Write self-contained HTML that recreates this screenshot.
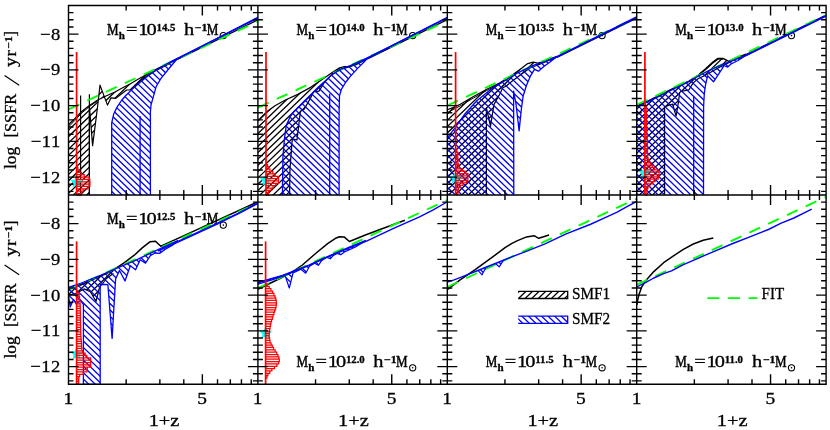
<!DOCTYPE html><html><head><meta charset="utf-8"><title>SSFR</title><style>html,body{margin:0;padding:0;background:#fff;}svg{display:block;will-change:transform;}text{font-family:"Liberation Serif",serif;stroke:#000;stroke-width:0.3px;}</style></head><body><svg width="830" height="430" viewBox="0 0 830 430" font-family='"Liberation Serif", serif' fill="#000"><text transform="translate(107 34.7) scale(0.8 1)" font-size="16.3" text-anchor="start" style="stroke-width:0.5px">M</text>
<text transform="translate(118.8 38.5) scale(1 1)" font-size="11" text-anchor="start" font-weight="bold" >h</text>
<text transform="translate(126 34.7) scale(1.25 1)" font-size="16.3" text-anchor="start" >=</text>
<text transform="translate(138.3 34.7) scale(1.25 1)" font-size="16.3" text-anchor="start" >1</text>
<text transform="translate(146.5 34.7) scale(1.25 1)" font-size="16.3" text-anchor="start" >0</text>
<text transform="translate(156.5 30.5) scale(1.1 1)" font-size="9.8" text-anchor="start" font-weight="bold" >14.5</text>
<text transform="translate(183.9 34.7) scale(1.25 1)" font-size="16.3" text-anchor="start" >h</text>
<text transform="translate(194.7 30.5) scale(1.2 1)" font-size="9.8" text-anchor="start" font-weight="bold" >−1</text>
<text transform="translate(206.7 34.7) scale(0.8 1)" font-size="16.3" text-anchor="start" style="stroke-width:0.5px">M</text>
<circle cx="223.3" cy="35.6" r="3.1" fill="none" stroke="#000" stroke-width="1.1"/>
<circle cx="223.3" cy="35.6" r="0.8" fill="#000"/>
<clipPath id="c1"><path d="M68.5 124.8 L75 118.5 L81.7 111.5 L89.4 105.5 L97.3 100.3 L106 96 L114.9 92 L122.7 87.8 L130.5 83.7 L138 79.3 L147 74.3 L155 69.8 L165 64.8 L178 58.3 L178 58.6 L166 65.5 L155 71 L147 75.8 L138 82.7 L130.5 90 L126.6 90 L115.8 98.3 L111 97.8 L107.5 105.1 L100 85.1 L97.3 109 L92.6 145.6 L89.4 106.5 L89.4 195 L68.5 195 Z"/></clipPath>
<path clip-path="url(#c1)" d="M67.5 55.25L179 -51.9M67.5 61.57L179 -45.58M67.5 67.9L179 -39.25M67.5 74.22L179 -32.93M67.5 80.55L179 -26.61M67.5 86.87L179 -20.28M67.5 93.19L179 -13.96M67.5 99.52L179 -7.63M67.5 105.84L179 -1.31M67.5 112.17L179 5.01M67.5 118.49L179 11.34M67.5 124.81L179 17.66M67.5 131.14L179 23.99M67.5 137.46L179 30.31M67.5 143.79L179 36.63M67.5 150.11L179 42.96M67.5 156.43L179 49.28M67.5 162.76L179 55.61M67.5 169.08L179 61.93M67.5 175.41L179 68.25M67.5 181.73L179 74.58M67.5 188.05L179 80.9M67.5 194.38L179 87.23M67.5 200.7L179 93.55M67.5 207.03L179 99.87M67.5 213.35L179 106.2M67.5 219.67L179 112.52M67.5 226L179 118.85M67.5 232.32L179 125.17M67.5 238.65L179 131.49M67.5 244.97L179 137.82M67.5 251.29L179 144.14M67.5 257.62L179 150.47M67.5 263.94L179 156.79M67.5 270.27L179 163.11M67.5 276.59L179 169.44M67.5 282.91L179 175.76M67.5 289.24L179 182.09M67.5 295.56L179 188.41M67.5 301.89L179 194.73" stroke="#000000" stroke-width="1.3" fill="none"/>
<path d="M68.5 127 L75 120.3 L81.7 113 L89.4 106.6 L97.3 101" stroke="#000000" stroke-width="1" fill="none" stroke-linejoin="round" />
<path d="M68.5 124.8 L75 118.5 L81.7 111.5 L89.4 105.5 L97.3 100.3 L106 96 L114.9 92 L122.7 87.8 L130.5 83.7 L138 79.3 L147 74.3 L155 69.8 L165 64.8 L178 58.3" stroke="#000000" stroke-width="1.2" fill="none" stroke-linejoin="round" />
<path d="M178 58.6 L166 65.5 L155 71 L147 75.8 L138 82.7 L130.5 90 L126.6 90 L115.8 98.3 L111 97.8 L107.5 105.1 L100 85.1 L97.3 109 L92.6 145.6 L89.4 106.5 L89.4 195" stroke="#000000" stroke-width="1.2" fill="none" stroke-linejoin="round" />
<path d="M80.6 95.5 L80.6 195" stroke="#000000" stroke-width="1.2" fill="none" stroke-linejoin="round" />
<path d="M89.4 94.2 L89.4 195" stroke="#000000" stroke-width="1.2" fill="none" stroke-linejoin="round" />
<path d="M178 59.2 L257.9 19.8" stroke="#000000" stroke-width="1.2" fill="none" stroke-linejoin="round" />
<path d="M68.5 109.4 L257.9 21.4" stroke="#00ff00" stroke-width="1.9" fill="none" stroke-linejoin="round" stroke-dasharray="11.8 8.9" stroke-dashoffset="0"/>
<clipPath id="c2"><path d="M111.7 195 L111.7 122.9 L113.8 113.7 L117.2 106.9 L121.8 100 L126.3 95 L132.9 88.6 L140.2 82.2 L147.5 76.2 L155.5 70.5 L166.1 64.3 L178 58 L174 62.5 L167.4 70.5 L160.8 78.6 L156.1 86.8 L152.8 98.7 L151 105 L150.4 112 L150.4 195 Z"/></clipPath>
<path clip-path="url(#c2)" d="M110.7 -11.93L179 54.12M110.7 -5.6L179 60.44M110.7 0.72L179 66.77M110.7 7.04L179 73.09M110.7 13.37L179 79.41M110.7 19.69L179 85.74M110.7 26.02L179 92.06M110.7 32.34L179 98.39M110.7 38.66L179 104.71M110.7 44.99L179 111.03M110.7 51.31L179 117.36M110.7 57.64L179 123.68M110.7 63.96L179 130.01M110.7 70.28L179 136.33M110.7 76.61L179 142.65M110.7 82.93L179 148.98M110.7 89.26L179 155.3M110.7 95.58L179 161.63M110.7 101.9L179 167.95M110.7 108.23L179 174.27M110.7 114.55L179 180.6M110.7 120.88L179 186.92M110.7 127.2L179 193.25M110.7 133.52L179 199.57M110.7 139.85L179 205.89M110.7 146.17L179 212.22M110.7 152.5L179 218.54M110.7 158.82L179 224.87M110.7 165.14L179 231.19M110.7 171.47L179 237.51M110.7 177.79L179 243.84M110.7 184.12L179 250.16M110.7 190.44L179 256.49" stroke="#0000ff" stroke-width="1.3" fill="none"/>
<path d="M111.7 195 L111.7 122.9 L113.8 113.7 L117.2 106.9 L121.8 100 L126.3 95 L132.9 88.6 L140.2 82.2 L147.5 76.2 L155.5 70.5 L166.1 64.3 L178 58" stroke="#0000ff" stroke-width="1.3" fill="none" stroke-linejoin="round" />
<path d="M178 58 L174 62.5 L167.4 70.5 L160.8 78.6 L156.1 86.8 L152.8 98.7 L151 105 L150.4 112 L150.4 195" stroke="#0000ff" stroke-width="1.3" fill="none" stroke-linejoin="round" />
<path d="M140.1 116 L140.1 195" stroke="#0000ff" stroke-width="1.3" fill="none" stroke-linejoin="round" />
<path d="M170 62.6 L257.9 17.4" stroke="#0000ff" stroke-width="1.5" fill="none" stroke-linejoin="round" />
<path d="M178 58 L257.9 18.2" stroke="#0000ff" stroke-width="1.2" fill="none" stroke-linejoin="round" />
<path d="M76.6 175.6 L74.66 179.53 L70.32 180.16 L73.46 183.22 L72.72 187.54 L76.6 185.5 L80.48 187.54 L79.74 183.22 L82.88 180.16 L78.54 179.53 Z" fill="#00ffff"/>
<path d="M76.6 165.3H77.22V167.65H76.6M76.6 167.65H77.85V170H76.6M76.6 170H79.47V172.35H76.6M76.6 172.35H81.28V174.7H76.6M76.6 174.7H84.24V177.05H76.6M76.6 177.05H89.4V179.4H76.6M76.6 179.4H89.77V181.75H76.6M76.6 181.75H89.96V184.1H76.6M76.6 184.1H89.85V186.45H76.6M76.6 186.45H87.86V188.8H76.6M76.6 188.8H83.25V191.15H76.6M76.6 191.15H81.78V193.5H76.6M76.6 193.5H80.49V195H76.6" stroke="#ff0000" stroke-width="1.25" fill="none" stroke-linejoin="miter"/>
<path d="M76.6 52 L76.6 195" stroke="#ff0000" stroke-width="1.7" fill="none" stroke-linejoin="round" />
<text transform="translate(296.4 34.7) scale(0.8 1)" font-size="16.3" text-anchor="start" style="stroke-width:0.5px">M</text>
<text transform="translate(308.2 38.5) scale(1 1)" font-size="11" text-anchor="start" font-weight="bold" >h</text>
<text transform="translate(315.4 34.7) scale(1.25 1)" font-size="16.3" text-anchor="start" >=</text>
<text transform="translate(327.7 34.7) scale(1.25 1)" font-size="16.3" text-anchor="start" >1</text>
<text transform="translate(335.9 34.7) scale(1.25 1)" font-size="16.3" text-anchor="start" >0</text>
<text transform="translate(345.9 30.5) scale(1.1 1)" font-size="9.8" text-anchor="start" font-weight="bold" >14.0</text>
<text transform="translate(373.3 34.7) scale(1.25 1)" font-size="16.3" text-anchor="start" >h</text>
<text transform="translate(384.1 30.5) scale(1.2 1)" font-size="9.8" text-anchor="start" font-weight="bold" >−1</text>
<text transform="translate(396.1 34.7) scale(0.8 1)" font-size="16.3" text-anchor="start" style="stroke-width:0.5px">M</text>
<circle cx="412.7" cy="35.6" r="3.1" fill="none" stroke="#000" stroke-width="1.1"/>
<circle cx="412.7" cy="35.6" r="0.8" fill="#000"/>
<clipPath id="c3"><path d="M257.9 120.6 L266 112.3 L275 105.8 L285.8 99.7 L297.8 94.4 L311 87.1 L324.3 77.9 L332.2 72.6 L338.8 68.2 L344.2 66.6 L349.5 66.3 L356 64 L368 58 L368 58.4 L356 64.6 L340.2 69.6 L332.2 73.9 L324.3 82.5 L319 91.1 L313.7 91.8 L311 97.1 L304.4 109 L300.4 111.4 L297 140 L292.3 138.9 L290 168.7 L289.6 195 L257.9 195 Z"/></clipPath>
<path clip-path="url(#c3)" d="M256.9 52.41L369 -55.32M256.9 58.73L369 -49M256.9 65.06L369 -42.67M256.9 71.38L369 -36.35M256.9 77.7L369 -30.02M256.9 84.03L369 -23.7M256.9 90.35L369 -17.38M256.9 96.68L369 -11.05M256.9 103L369 -4.73M256.9 109.32L369 1.6M256.9 115.65L369 7.92M256.9 121.97L369 14.24M256.9 128.3L369 20.57M256.9 134.62L369 26.89M256.9 140.94L369 33.22M256.9 147.27L369 39.54M256.9 153.59L369 45.86M256.9 159.92L369 52.19M256.9 166.24L369 58.51M256.9 172.56L369 64.84M256.9 178.89L369 71.16M256.9 185.21L369 77.48M256.9 191.54L369 83.81M256.9 197.86L369 90.13M256.9 204.18L369 96.46M256.9 210.51L369 102.78M256.9 216.83L369 109.1M256.9 223.16L369 115.43M256.9 229.48L369 121.75M256.9 235.8L369 128.08M256.9 242.13L369 134.4M256.9 248.45L369 140.72M256.9 254.78L369 147.05M256.9 261.1L369 153.37M256.9 267.42L369 159.7M256.9 273.75L369 166.02M256.9 280.07L369 172.34M256.9 286.4L369 178.67M256.9 292.72L369 184.99M256.9 299.04L369 191.32" stroke="#000000" stroke-width="1.3" fill="none"/>
<path d="M257.9 120.6 L266 112.3 L275 105.8 L285.8 99.7 L297.8 94.4 L311 87.1 L324.3 77.9 L332.2 72.6 L338.8 68.2 L344.2 66.6 L349.5 66.3 L356 64 L368 58" stroke="#000000" stroke-width="1.2" fill="none" stroke-linejoin="round" />
<path d="M368 58.4 L356 64.6 L340.2 69.6 L332.2 73.9 L324.3 82.5 L319 91.1 L313.7 91.8 L311 97.1 L304.4 109 L300.4 111.4 L297 140 L292.3 138.9 L290 168.7 L289.6 195" stroke="#000000" stroke-width="1.2" fill="none" stroke-linejoin="round" />
<path d="M368 58.8 L447.3 19.6" stroke="#000000" stroke-width="1.2" fill="none" stroke-linejoin="round" />
<path d="M257.9 107.6 L447.3 20.9" stroke="#00ff00" stroke-width="1.9" fill="none" stroke-linejoin="round" stroke-dasharray="11.8 8.9" stroke-dashoffset="0"/>
<clipPath id="c4"><path d="M282.4 195 L282.9 157.2 L284.2 141.2 L286.3 125.2 L290.5 116 L294 111.5 L301.7 103.7 L311 94.4 L317.6 87.8 L324.3 81.8 L332.2 74.6 L340.2 69.3 L350.8 65.3 L368 57.6 L364 62 L357.4 68.6 L350.8 75.9 L345.5 82.5 L341.5 89.1 L339.5 95.8 L339.1 112.3 L339.1 195 Z"/></clipPath>
<path clip-path="url(#c4)" d="M281.4 -30.26L369 54.45M281.4 -23.93L369 60.78M281.4 -17.61L369 67.1M281.4 -11.28L369 73.42M281.4 -4.96L369 79.75M281.4 1.36L369 86.07M281.4 7.69L369 92.4M281.4 14.01L369 98.72M281.4 20.34L369 105.04M281.4 26.66L369 111.37M281.4 32.98L369 117.69M281.4 39.31L369 124.02M281.4 45.63L369 130.34M281.4 51.96L369 136.66M281.4 58.28L369 142.99M281.4 64.6L369 149.31M281.4 70.93L369 155.64M281.4 77.25L369 161.96M281.4 83.58L369 168.28M281.4 89.9L369 174.61M281.4 96.22L369 180.93M281.4 102.55L369 187.26M281.4 108.87L369 193.58M281.4 115.2L369 199.9M281.4 121.52L369 206.23M281.4 127.84L369 212.55M281.4 134.17L369 218.88M281.4 140.49L369 225.2M281.4 146.82L369 231.52M281.4 153.14L369 237.85M281.4 159.46L369 244.17M281.4 165.79L369 250.5M281.4 172.11L369 256.82M281.4 178.44L369 263.14M281.4 184.76L369 269.47M281.4 191.08L369 275.79" stroke="#0000ff" stroke-width="1.3" fill="none"/>
<path d="M282.4 195 L282.9 157.2 L284.2 141.2 L286.3 125.2 L290.5 116 L294 111.5 L301.7 103.7 L311 94.4 L317.6 87.8 L324.3 81.8 L332.2 74.6 L340.2 69.3 L350.8 65.3 L368 57.6" stroke="#0000ff" stroke-width="1.3" fill="none" stroke-linejoin="round" />
<path d="M368 57.6 L364 62 L357.4 68.6 L350.8 75.9 L345.5 82.5 L341.5 89.1 L339.5 95.8 L339.1 112.3 L339.1 195" stroke="#0000ff" stroke-width="1.3" fill="none" stroke-linejoin="round" />
<path d="M329.7 93.8 L329.7 195" stroke="#0000ff" stroke-width="1.3" fill="none" stroke-linejoin="round" />
<path d="M362 61 L447.3 17.4" stroke="#0000ff" stroke-width="1.5" fill="none" stroke-linejoin="round" />
<path d="M368 57.6 L447.3 18" stroke="#0000ff" stroke-width="1.2" fill="none" stroke-linejoin="round" />
<path d="M266 173.9 L264.06 177.83 L259.72 178.46 L262.86 181.52 L262.12 185.84 L266 183.8 L269.88 185.84 L269.14 181.52 L272.28 178.46 L267.94 177.83 Z" fill="#00ffff"/>
<path d="M266 164.5H267.52V166.85H266M266 166.85H268.91V169.2H266M266 169.2H269.95V171.55H266M266 171.55H272.82V173.9H266M266 173.9H275.18V176.25H266M266 176.25H278.5V178.6H266M266 178.6H278.5V180.95H266M266 180.95H278.5V183.3H266M266 183.3H275.7V185.65H266M266 185.65H273.05V188H266M266 188H271.2V190.35H266M266 190.35H268.47V192.7H266M266 192.7H268.37V195H266" stroke="#ff0000" stroke-width="1.25" fill="none" stroke-linejoin="miter"/>
<path d="M266 52 L266 195" stroke="#ff0000" stroke-width="1.7" fill="none" stroke-linejoin="round" />
<text transform="translate(485.8 34.7) scale(0.8 1)" font-size="16.3" text-anchor="start" style="stroke-width:0.5px">M</text>
<text transform="translate(497.6 38.5) scale(1 1)" font-size="11" text-anchor="start" font-weight="bold" >h</text>
<text transform="translate(504.8 34.7) scale(1.25 1)" font-size="16.3" text-anchor="start" >=</text>
<text transform="translate(517.1 34.7) scale(1.25 1)" font-size="16.3" text-anchor="start" >1</text>
<text transform="translate(525.3 34.7) scale(1.25 1)" font-size="16.3" text-anchor="start" >0</text>
<text transform="translate(535.3 30.5) scale(1.1 1)" font-size="9.8" text-anchor="start" font-weight="bold" >13.5</text>
<text transform="translate(562.7 34.7) scale(1.25 1)" font-size="16.3" text-anchor="start" >h</text>
<text transform="translate(573.5 30.5) scale(1.2 1)" font-size="9.8" text-anchor="start" font-weight="bold" >−1</text>
<text transform="translate(585.5 34.7) scale(0.8 1)" font-size="16.3" text-anchor="start" style="stroke-width:0.5px">M</text>
<circle cx="602.1" cy="35.6" r="3.1" fill="none" stroke="#000" stroke-width="1.1"/>
<circle cx="602.1" cy="35.6" r="0.8" fill="#000"/>
<clipPath id="c5"><path d="M447.3 109.8 L453 107.6 L460.3 104.2 L473.5 96.6 L486.8 89.3 L500 82.7 L513.3 74.2 L521.2 68.6 L527.8 63.6 L533.1 62.2 L537.8 63.1 L542.4 61.8 L557 56.2 L557 56.6 L542.4 63.2 L530 68 L521 74.5 L512 81.2 L506 86.2 L502.7 87.8 L500 93.8 L493.9 104.6 L490.5 126.3 L486.4 108 L486.4 195 L447.3 195 Z"/></clipPath>
<path clip-path="url(#c5)" d="M446.3 51.69L558 -55.65M446.3 58.01L558 -49.33M446.3 64.34L558 -43.01M446.3 70.66L558 -36.68M446.3 76.99L558 -30.36M446.3 83.31L558 -24.03M446.3 89.63L558 -17.71M446.3 95.96L558 -11.39M446.3 102.28L558 -5.06M446.3 108.61L558 1.26M446.3 114.93L558 7.59M446.3 121.25L558 13.91M446.3 127.58L558 20.23M446.3 133.9L558 26.56M446.3 140.23L558 32.88M446.3 146.55L558 39.21M446.3 152.87L558 45.53M446.3 159.2L558 51.85M446.3 165.52L558 58.18M446.3 171.85L558 64.5M446.3 178.17L558 70.83M446.3 184.49L558 77.15M446.3 190.82L558 83.47M446.3 197.14L558 89.8M446.3 203.47L558 96.12M446.3 209.79L558 102.45M446.3 216.11L558 108.77M446.3 222.44L558 115.09M446.3 228.76L558 121.42M446.3 235.09L558 127.74M446.3 241.41L558 134.07M446.3 247.73L558 140.39M446.3 254.06L558 146.71M446.3 260.38L558 153.04M446.3 266.71L558 159.36M446.3 273.03L558 165.69M446.3 279.35L558 172.01M446.3 285.68L558 178.33M446.3 292L558 184.66M446.3 298.33L558 190.98" stroke="#000000" stroke-width="1.3" fill="none"/>
<path d="M447.3 112.6 L453 109.6 L460.3 105.8 L473.5 98 L486.8 90.5 L500 83.6 L513.3 75" stroke="#000000" stroke-width="1" fill="none" stroke-linejoin="round" />
<path d="M447.3 109.8 L453 107.6 L460.3 104.2 L473.5 96.6 L486.8 89.3 L500 82.7 L513.3 74.2 L521.2 68.6 L527.8 63.6 L533.1 62.2 L537.8 63.1 L542.4 61.8 L557 56.2" stroke="#000000" stroke-width="1.2" fill="none" stroke-linejoin="round" />
<path d="M557 56.6 L542.4 63.2 L530 68 L521 74.5 L512 81.2 L506 86.2 L502.7 87.8 L500 93.8 L493.9 104.6 L490.5 126.3 L486.4 108 L486.4 195" stroke="#000000" stroke-width="1.2" fill="none" stroke-linejoin="round" />
<path d="M557 57.4 L636.6 18.3" stroke="#000000" stroke-width="1.2" fill="none" stroke-linejoin="round" />
<path d="M447.3 105.6 L636.6 17.6" stroke="#00ff00" stroke-width="1.9" fill="none" stroke-linejoin="round" stroke-dasharray="11.8 8.9" stroke-dashoffset="0"/>
<clipPath id="c6"><path d="M447.3 195 L447.3 137.8 L455 127.8 L464.2 114.8 L476.8 100.8 L490.7 89.4 L504 81.2 L517.2 73.2 L526.5 68.6 L533.1 65.4 L545 61.5 L557 56.6 L550 62 L543.8 66.6 L538.4 71.2 L534.5 69.3 L530.5 75.9 L526.5 85.2 L523.2 95.8 L521.5 108 L519.1 130.9 L516 104 L513.6 91.1 L513.8 195 Z"/></clipPath>
<path clip-path="url(#c6)" d="M446.3 -54.19L558 53.82M446.3 -47.87L558 60.14M446.3 -41.55L558 66.47M446.3 -35.22L558 72.79M446.3 -28.9L558 79.12M446.3 -22.57L558 85.44M446.3 -16.25L558 91.76M446.3 -9.93L558 98.09M446.3 -3.6L558 104.41M446.3 2.72L558 110.74M446.3 9.05L558 117.06M446.3 15.37L558 123.38M446.3 21.69L558 129.71M446.3 28.02L558 136.03M446.3 34.34L558 142.36M446.3 40.67L558 148.68M446.3 46.99L558 155M446.3 53.31L558 161.33M446.3 59.64L558 167.65M446.3 65.96L558 173.98M446.3 72.29L558 180.3M446.3 78.61L558 186.62M446.3 84.93L558 192.95M446.3 91.26L558 199.27M446.3 97.58L558 205.6M446.3 103.91L558 211.92M446.3 110.23L558 218.24M446.3 116.55L558 224.57M446.3 122.88L558 230.89M446.3 129.2L558 237.22M446.3 135.53L558 243.54M446.3 141.85L558 249.86M446.3 148.17L558 256.19M446.3 154.5L558 262.51M446.3 160.82L558 268.84M446.3 167.15L558 275.16M446.3 173.47L558 281.48M446.3 179.79L558 287.81M446.3 186.12L558 294.13M446.3 192.44L558 300.46" stroke="#0000ff" stroke-width="1.3" fill="none"/>
<path d="M447.3 137.8 L455 127.8 L464.2 114.8 L476.8 100.8 L490.7 89.4 L504 81.2 L517.2 73.2 L526.5 68.6 L533.1 65.4 L545 61.5 L557 56.6" stroke="#0000ff" stroke-width="1.3" fill="none" stroke-linejoin="round" />
<path d="M557 56.6 L550 62 L543.8 66.6 L538.4 71.2 L534.5 69.3 L530.5 75.9 L526.5 85.2 L523.2 95.8 L521.5 108 L519.1 130.9 L516 104 L513.6 91.1 L513.8 195" stroke="#0000ff" stroke-width="1.3" fill="none" stroke-linejoin="round" />
<path d="M550 60.4 L636.6 17" stroke="#0000ff" stroke-width="1.5" fill="none" stroke-linejoin="round" />
<path d="M557 56.6 L636.6 17.6" stroke="#0000ff" stroke-width="1.2" fill="none" stroke-linejoin="round" />
<path d="M455.5 171.6 L453.56 175.53 L449.22 176.16 L452.36 179.22 L451.62 183.54 L455.5 181.5 L459.38 183.54 L458.64 179.22 L461.78 176.16 L457.44 175.53 Z" fill="#00ffff"/>
<path d="M455.6 150H456.77V152.35H455.6M455.6 152.35H457.81V154.7H455.6M455.6 154.7H457.85V157.05H455.6M455.6 157.05H457.9V159.4H455.6M455.6 159.4H457.94V161.75H455.6M455.6 161.75H457.99V164.1H455.6M455.6 164.1H458.54V166.45H455.6M455.6 166.45H459.25V168.8H455.6M455.6 168.8H462.17V171.15H455.6M455.6 171.15H465.18V173.5H455.6M455.6 173.5H467.9V175.85H455.6M455.6 175.85H467.9V178.2H455.6M455.6 178.2H467.9V180.55H455.6M455.6 180.55H466.51V182.9H455.6M455.6 182.9H463.03V185.25H455.6M455.6 185.25H460.01V187.6H455.6M455.6 187.6H458.38V189.95H455.6M455.6 189.95H457.95V192.3H455.6M455.6 192.3H457.87V194.65H455.6" stroke="#ff0000" stroke-width="1.25" fill="none" stroke-linejoin="miter"/>
<path d="M455.6 52 L455.6 195" stroke="#ff0000" stroke-width="1.7" fill="none" stroke-linejoin="round" />
<text transform="translate(675.2 34.7) scale(0.8 1)" font-size="16.3" text-anchor="start" style="stroke-width:0.5px">M</text>
<text transform="translate(687 38.5) scale(1 1)" font-size="11" text-anchor="start" font-weight="bold" >h</text>
<text transform="translate(694.2 34.7) scale(1.25 1)" font-size="16.3" text-anchor="start" >=</text>
<text transform="translate(706.5 34.7) scale(1.25 1)" font-size="16.3" text-anchor="start" >1</text>
<text transform="translate(714.7 34.7) scale(1.25 1)" font-size="16.3" text-anchor="start" >0</text>
<text transform="translate(724.7 30.5) scale(1.1 1)" font-size="9.8" text-anchor="start" font-weight="bold" >13.0</text>
<text transform="translate(752.1 34.7) scale(1.25 1)" font-size="16.3" text-anchor="start" >h</text>
<text transform="translate(762.9 30.5) scale(1.2 1)" font-size="9.8" text-anchor="start" font-weight="bold" >−1</text>
<text transform="translate(774.9 34.7) scale(0.8 1)" font-size="16.3" text-anchor="start" style="stroke-width:0.5px">M</text>
<circle cx="791.5" cy="35.6" r="3.1" fill="none" stroke="#000" stroke-width="1.1"/>
<circle cx="791.5" cy="35.6" r="0.8" fill="#000"/>
<clipPath id="c7"><path d="M636.7 105.6 L649.3 100.3 L662.5 93.7 L675.8 87 L689 81 L699.6 74.2 L706.2 68.6 L712.9 62.4 L718.2 58.6 L723.5 58.6 L728.8 61.3 L734.1 58.6 L746 54 L746 54.5 L734.1 60 L728.8 62.6 L720 67 L712 71.5 L705 75.5 L698.3 78.5 L693 83.1 L689 89.8 L681 91.5 L679.7 92.4 L678.4 102.3 L676.1 116 L672.5 104 L664.6 106.9 L664.6 195 L636.7 195 Z"/></clipPath>
<path clip-path="url(#c7)" d="M635.7 46.75L747 -60.21M635.7 53.07L747 -53.89M635.7 59.4L747 -47.56M635.7 65.72L747 -41.24M635.7 72.04L747 -34.91M635.7 78.37L747 -28.59M635.7 84.69L747 -22.27M635.7 91.02L747 -15.94M635.7 97.34L747 -9.62M635.7 103.66L747 -3.29M635.7 109.99L747 3.03M635.7 116.31L747 9.35M635.7 122.64L747 15.68M635.7 128.96L747 22M635.7 135.28L747 28.33M635.7 141.61L747 34.65M635.7 147.93L747 40.97M635.7 154.26L747 47.3M635.7 160.58L747 53.62M635.7 166.9L747 59.95M635.7 173.23L747 66.27M635.7 179.55L747 72.59M635.7 185.88L747 78.92M635.7 192.2L747 85.24M635.7 198.52L747 91.57M635.7 204.85L747 97.89M635.7 211.17L747 104.21M635.7 217.5L747 110.54M635.7 223.82L747 116.86M635.7 230.14L747 123.19M635.7 236.47L747 129.51M635.7 242.79L747 135.83M635.7 249.12L747 142.16M635.7 255.44L747 148.48M635.7 261.76L747 154.81M635.7 268.09L747 161.13M635.7 274.41L747 167.45M635.7 280.74L747 173.78M635.7 287.06L747 180.1M635.7 293.38L747 186.43M635.7 299.71L747 192.75" stroke="#000000" stroke-width="1.3" fill="none"/>
<path d="M636.7 105.6 L649.3 100.3 L662.5 93.7 L675.8 87 L689 81 L699.6 74.2 L706.2 68.6 L712.9 62.4 L718.2 58.6 L723.5 58.6 L728.8 61.3 L734.1 58.6 L746 54" stroke="#000000" stroke-width="1.3" fill="none" stroke-linejoin="round" />
<path d="M699.6 74.2 L706.2 68.6 L712.9 62.4 L718.2 58.6 L723.5 58.6" stroke="#000000" stroke-width="1.9" fill="none" stroke-linejoin="round" />
<path d="M746 54.5 L734.1 60 L728.8 62.6 L720 67 L712 71.5 L705 75.5 L698.3 78.5 L693 83.1 L689 89.8 L681 91.5 L679.7 92.4 L678.4 102.3 L676.1 116 L672.5 104 L664.6 106.9 L664.6 195" stroke="#000000" stroke-width="1.2" fill="none" stroke-linejoin="round" />
<path d="M746 54.4 L826 14.9" stroke="#000000" stroke-width="1.1" fill="none" stroke-linejoin="round" />
<path d="M636.7 104.9 L826 15" stroke="#00ff00" stroke-width="1.9" fill="none" stroke-linejoin="round" stroke-dasharray="11.8 8.9" stroke-dashoffset="0"/>
<clipPath id="c8"><path d="M636.7 195 L636.7 106.4 L649.3 101.2 L662.5 94.6 L675.8 87.8 L689 81.7 L699.6 75.3 L708.9 70.5 L722.2 64.6 L730 61.5 L746 55.3 L738 60.5 L731 64 L727.5 67.2 L724 65.5 L722.2 68.6 L713.5 81.8 L707.6 75.8 L705.6 84.5 L704.3 93.7 L703.6 106.3 L703.5 195 Z"/></clipPath>
<path clip-path="url(#c8)" d="M635.7 -54.44L747 53.19M635.7 -48.12L747 59.51M635.7 -41.79L747 65.83M635.7 -35.47L747 72.16M635.7 -29.14L747 78.48M635.7 -22.82L747 84.81M635.7 -16.5L747 91.13M635.7 -10.17L747 97.45M635.7 -3.85L747 103.78M635.7 2.48L747 110.1M635.7 8.8L747 116.43M635.7 15.12L747 122.75M635.7 21.45L747 129.07M635.7 27.77L747 135.4M635.7 34.1L747 141.72M635.7 40.42L747 148.05M635.7 46.74L747 154.37M635.7 53.07L747 160.69M635.7 59.39L747 167.02M635.7 65.72L747 173.34M635.7 72.04L747 179.67M635.7 78.36L747 185.99M635.7 84.69L747 192.31M635.7 91.01L747 198.64M635.7 97.34L747 204.96M635.7 103.66L747 211.29M635.7 109.98L747 217.61M635.7 116.31L747 223.93M635.7 122.63L747 230.26M635.7 128.96L747 236.58M635.7 135.28L747 242.91M635.7 141.6L747 249.23M635.7 147.93L747 255.55M635.7 154.25L747 261.88M635.7 160.58L747 268.2M635.7 166.9L747 274.53M635.7 173.22L747 280.85M635.7 179.55L747 287.17M635.7 185.87L747 293.5M635.7 192.2L747 299.82" stroke="#0000ff" stroke-width="1.3" fill="none"/>
<path d="M636.7 106.4 L649.3 101.2 L662.5 94.6 L675.8 87.8 L689 81.7 L699.6 75.3 L708.9 70.5 L722.2 64.6 L730 61.5 L746 55.3" stroke="#0000ff" stroke-width="1.3" fill="none" stroke-linejoin="round" />
<path d="M746 55.3 L738 60.5 L731 64 L727.5 67.2 L724 65.5 L722.2 68.6 L713.5 81.8 L707.6 75.8 L705.6 84.5 L704.3 93.7 L703.6 106.3 L703.5 195" stroke="#0000ff" stroke-width="1.3" fill="none" stroke-linejoin="round" />
<path d="M693.7 95.7 L693.7 195" stroke="#0000ff" stroke-width="1.3" fill="none" stroke-linejoin="round" />
<path d="M738 59.4 L826 15.6" stroke="#0000ff" stroke-width="1.5" fill="none" stroke-linejoin="round" />
<path d="M746 55.6 L826 16.2" stroke="#0000ff" stroke-width="1.2" fill="none" stroke-linejoin="round" />
<path d="M644.8 166.3 L642.86 170.23 L638.52 170.86 L641.66 173.92 L640.92 178.24 L644.8 176.2 L648.68 178.24 L647.94 173.92 L651.08 170.86 L646.74 170.23 Z" fill="#00ffff"/>
<path d="M644.9 104H645.63V106.35H644.9M644.9 106.35H646.11V108.7H644.9M644.9 108.7H646.23V111.05H644.9M644.9 111.05H646.27V113.4H644.9M644.9 113.4H646.32V115.75H644.9M644.9 115.75H646.36V118.1H644.9M644.9 118.1H646.4V120.45H644.9M644.9 120.45H646.44V122.8H644.9M644.9 122.8H646.48V125.15H644.9M644.9 125.15H646.57V127.5H644.9M644.9 127.5H646.7V129.85H644.9M644.9 129.85H646.82V132.2H644.9M644.9 132.2H646.95V134.55H644.9M644.9 134.55H647.07V136.9H644.9M644.9 136.9H647.2V139.25H644.9M644.9 139.25H647.31V141.6H644.9M644.9 141.6H647.36V143.95H644.9M644.9 143.95H647.42V146.3H644.9M644.9 146.3H647.47V148.65H644.9M644.9 148.65H647.52V151H644.9M644.9 151H647.58V153.35H644.9M644.9 153.35H647.63V155.7H644.9M644.9 155.7H647.69V158.05H644.9M644.9 158.05H648.21V160.4H644.9M644.9 160.4H649.23V162.75H644.9M644.9 162.75H650.54V165.1H644.9M644.9 165.1H652.28V167.45H644.9M644.9 167.45H654.62V169.8H644.9M644.9 169.8H658V172.15H644.9M644.9 172.15H659.1V174.5H644.9M644.9 174.5H659.1V176.85H644.9M644.9 176.85H658.18V179.2H644.9M644.9 179.2H655.17V181.55H644.9M644.9 181.55H652.2V183.9H644.9M644.9 183.9H649.78V186.25H644.9M644.9 186.25H647.89V188.6H644.9M644.9 188.6H647.08V190.95H644.9M644.9 190.95H647V193.3H644.9M644.9 193.3H646.93V195H644.9" stroke="#ff0000" stroke-width="1.25" fill="none" stroke-linejoin="miter"/>
<path d="M644.9 52 L644.9 195" stroke="#ff0000" stroke-width="1.7" fill="none" stroke-linejoin="round" />
<text transform="translate(107 224.2) scale(0.8 1)" font-size="16.3" text-anchor="start" style="stroke-width:0.5px">M</text>
<text transform="translate(118.8 228) scale(1 1)" font-size="11" text-anchor="start" font-weight="bold" >h</text>
<text transform="translate(126 224.2) scale(1.25 1)" font-size="16.3" text-anchor="start" >=</text>
<text transform="translate(138.3 224.2) scale(1.25 1)" font-size="16.3" text-anchor="start" >1</text>
<text transform="translate(146.5 224.2) scale(1.25 1)" font-size="16.3" text-anchor="start" >0</text>
<text transform="translate(156.5 220) scale(1.1 1)" font-size="9.8" text-anchor="start" font-weight="bold" >12.5</text>
<text transform="translate(183.9 224.2) scale(1.25 1)" font-size="16.3" text-anchor="start" >h</text>
<text transform="translate(194.7 220) scale(1.2 1)" font-size="9.8" text-anchor="start" font-weight="bold" >−1</text>
<text transform="translate(206.7 224.2) scale(0.8 1)" font-size="16.3" text-anchor="start" style="stroke-width:0.5px">M</text>
<circle cx="223.3" cy="225.1" r="3.1" fill="none" stroke="#000" stroke-width="1.1"/>
<circle cx="223.3" cy="225.1" r="0.8" fill="#000"/>
<clipPath id="c9"><path d="M68.5 287.9 L80 283.9 L93.9 278.3 L107.9 272.9 L119 268 L113.4 273.6 L106.5 278.5 L99.5 287.5 L96 301.5 L90.4 291.7 L84.1 288.9 L76 293.5 L68.5 295.2 Z"/></clipPath>
<path clip-path="url(#c9)" d="M67.5 263.94L120 213.49M67.5 270.27L120 219.81M67.5 276.59L120 226.14M67.5 282.91L120 232.46M67.5 289.24L120 238.78M67.5 295.56L120 245.11M67.5 301.89L120 251.43M67.5 308.21L120 257.76M67.5 314.53L120 264.08M67.5 320.86L120 270.4M67.5 327.18L120 276.73M67.5 333.51L120 283.05M67.5 339.83L120 289.38M67.5 346.15L120 295.7M67.5 352.48L120 302.02" stroke="#000000" stroke-width="1.3" fill="none"/>
<path d="M113.4 273.6 L106.5 278.5 L99.5 287.5 L96 301.5 L90.4 291.7 L84.1 288.9 L76 293.5 L68.5 295.2" stroke="#000000" stroke-width="1.2" fill="none" stroke-linejoin="round" />
<path d="M68.5 289.4 L80 285.2 L93.9 279 L107.9 272.9 L115.7 268.4 L123.7 263.1 L134.3 255.2 L142.2 247.9 L150.2 241.7 L155.5 241.3 L160.8 246.3 L178 238.4 L256.7 202.3" stroke="#000000" stroke-width="1.5" fill="none" stroke-linejoin="round" />
<path d="M68.5 289.8 L257.9 203" stroke="#00ff00" stroke-width="1.9" fill="none" stroke-linejoin="round" stroke-dasharray="11.8 8.9" stroke-dashoffset="0"/>
<clipPath id="c10"><path d="M68.5 287.4 L81.3 283 L101.1 275 L121 266.4 L134.3 260.8 L147.5 254.7 L160.8 248.3 L178 240.6 L172 245.5 L165 249.5 L159.5 253.4 L155 253 L150.2 255.8 L145.5 263.1 L140.2 259.8 L135.6 269.8 L130.3 265.8 L125 281 L119.5 270.5 L115.6 279 L112.1 338.4 L107.9 284.7 L104.5 284.3 L100.2 284.7 L100.2 384.3 L83.4 384.3 L83.4 304.3 L80 300 L76.5 304.3 L73.5 299.5 L70.2 307 L68.5 295.9 Z"/></clipPath>
<path clip-path="url(#c10)" d="M67.5 129.69L179 237.51M67.5 136.02L179 243.84M67.5 142.34L179 250.16M67.5 148.67L179 256.49M67.5 154.99L179 262.81M67.5 161.31L179 269.13M67.5 167.64L179 275.46M67.5 173.96L179 281.78M67.5 180.29L179 288.11M67.5 186.61L179 294.43M67.5 192.93L179 300.75M67.5 199.26L179 307.08M67.5 205.58L179 313.4M67.5 211.91L179 319.73M67.5 218.23L179 326.05M67.5 224.55L179 332.37M67.5 230.88L179 338.7M67.5 237.2L179 345.02M67.5 243.53L179 351.35M67.5 249.85L179 357.67M67.5 256.17L179 363.99M67.5 262.5L179 370.32M67.5 268.82L179 376.64M67.5 275.15L179 382.97M67.5 281.47L179 389.29M67.5 287.79L179 395.61M67.5 294.12L179 401.94M67.5 300.44L179 408.26M67.5 306.77L179 414.59M67.5 313.09L179 420.91M67.5 319.41L179 427.23M67.5 325.74L179 433.56M67.5 332.06L179 439.88M67.5 338.39L179 446.21M67.5 344.71L179 452.53M67.5 351.03L179 458.85M67.5 357.36L179 465.18M67.5 363.68L179 471.5M67.5 370.01L179 477.83M67.5 376.33L179 484.15M67.5 382.65L179 490.47" stroke="#0000ff" stroke-width="1.3" fill="none"/>
<path d="M68.5 287.4 L81.3 283 L101.1 275 L121 266.4 L134.3 260.8 L147.5 254.7 L160.8 248.3 L178 240.6" stroke="#0000ff" stroke-width="1.3" fill="none" stroke-linejoin="round" />
<path d="M178 240.6 L172 245.5 L165 249.5 L159.5 253.4 L155 253 L150.2 255.8 L145.5 263.1 L140.2 259.8 L135.6 269.8 L130.3 265.8 L125 281 L119.5 270.5 L115.6 279 L112.1 338.4 L107.9 284.7 L104.5 284.3 L100.2 284.7 L100.2 384.3 L83.4 384.3 L83.4 304.3 L80 300 L76.5 304.3 L73.5 299.5 L70.2 307 L68.5 295.9" stroke="#0000ff" stroke-width="1.3" fill="none" stroke-linejoin="round" />
<path d="M158 251 L190 236.6 L216 224.6 L240 212.8 L257.9 203.4" stroke="#0000ff" stroke-width="1.5" fill="none" stroke-linejoin="round" />
<path d="M178 241.2 L216 223.8 L240 212.2 L257.9 203" stroke="#0000ff" stroke-width="1.2" fill="none" stroke-linejoin="round" />
<path d="M76.6 347.4 L74.66 351.33 L70.32 351.96 L73.46 355.02 L72.72 359.34 L76.6 357.3 L80.48 359.34 L79.74 355.02 L82.88 351.96 L78.54 351.33 Z" fill="#00ffff"/>
<path d="M76.6 292H77.99V294.35H76.6M76.6 294.35H79.16V296.7H76.6M76.6 296.7H79.57V299.05H76.6M76.6 299.05H79.78V301.4H76.6M76.6 301.4H79.98V303.75H76.6M76.6 303.75H80.19V306.1H76.6M76.6 306.1H80.25V308.45H76.6M76.6 308.45H80.29V310.8H76.6M76.6 310.8H80.34V313.15H76.6M76.6 313.15H80.39V315.5H76.6M76.6 315.5H80.43V317.85H76.6M76.6 317.85H80.48V320.2H76.6M76.6 320.2H80.53V322.55H76.6M76.6 322.55H80.57V324.9H76.6M76.6 324.9H80.62V327.25H76.6M76.6 327.25H80.67V329.6H76.6M76.6 329.6H80.72V331.95H76.6M76.6 331.95H80.76V334.3H76.6M76.6 334.3H80.84V336.65H76.6M76.6 336.65H81.01V339H76.6M76.6 339H81.19V341.35H76.6M76.6 341.35H81.36V343.7H76.6M76.6 343.7H81.53V346.05H76.6M76.6 346.05H81.7V348.4H76.6M76.6 348.4H81.86V350.75H76.6M76.6 350.75H82.55V353.1H76.6M76.6 353.1H85.14V355.45H76.6M76.6 355.45H86.8V357.8H76.6M76.6 357.8H90.61V360.15H76.6M76.6 360.15H90.66V362.5H76.6M76.6 362.5H90.71V364.85H76.6M76.6 364.85H90.77V367.2H76.6M76.6 367.2H87.31V369.55H76.6M76.6 369.55H87.02V371.9H76.6M76.6 371.9H83.3V374.25H76.6M76.6 374.25H79.59V376.6H76.6M76.6 376.6H78.79V378.95H76.6M76.6 378.95H78.72V381.3H76.6M76.6 381.3H78.66V383.65H76.6" stroke="#ff0000" stroke-width="1.25" fill="none" stroke-linejoin="miter"/>
<path d="M76.6 241.4 L76.6 384.3" stroke="#ff0000" stroke-width="1.7" fill="none" stroke-linejoin="round" />
<text transform="translate(296.4 366.9) scale(0.8 1)" font-size="16.3" text-anchor="start" style="stroke-width:0.5px">M</text>
<text transform="translate(308.2 370.7) scale(1 1)" font-size="11" text-anchor="start" font-weight="bold" >h</text>
<text transform="translate(315.4 366.9) scale(1.25 1)" font-size="16.3" text-anchor="start" >=</text>
<text transform="translate(327.7 366.9) scale(1.25 1)" font-size="16.3" text-anchor="start" >1</text>
<text transform="translate(335.9 366.9) scale(1.25 1)" font-size="16.3" text-anchor="start" >0</text>
<text transform="translate(345.9 362.7) scale(1.1 1)" font-size="9.8" text-anchor="start" font-weight="bold" >12.0</text>
<text transform="translate(373.3 366.9) scale(1.25 1)" font-size="16.3" text-anchor="start" >h</text>
<text transform="translate(384.1 362.7) scale(1.2 1)" font-size="9.8" text-anchor="start" font-weight="bold" >−1</text>
<text transform="translate(396.1 366.9) scale(0.8 1)" font-size="16.3" text-anchor="start" style="stroke-width:0.5px">M</text>
<circle cx="412.7" cy="367.8" r="3.1" fill="none" stroke="#000" stroke-width="1.1"/>
<circle cx="412.7" cy="367.8" r="0.8" fill="#000"/>
<path d="M257.9 289.2 L266 285.3 L275.8 280.5 L282 277.5 L291.6 272.4 L302.4 265 L315.6 253.5 L327.6 243.6 L335.5 238.3 L339.5 236.7 L344.1 236.9 L349.4 241.5 L366 234.8 L404.9 220.2" stroke="#000000" stroke-width="1.5" fill="none" stroke-linejoin="round" />
<path d="M257.9 288 L447.3 200" stroke="#00ff00" stroke-width="1.9" fill="none" stroke-linejoin="round" stroke-dasharray="11.8 8.9" stroke-dashoffset="0"/>
<clipPath id="c11"><path d="M257.9 282.3 L282.5 275.3 L309 265 L322.3 258.8 L335.5 253.2 L348.8 247.4 L366 240.4 L355 247.3 L345 251.6 L340.8 254.8 L337 253.4 L333 255.8 L330.2 258.8 L326.5 257.3 L321.5 260.8 L318.3 265.3 L314.5 263.3 L309.5 266.3 L305.7 273.2 L301 269.2 L293 273 L289.3 288 L285 275.4 L272 279.9 L257.9 284.2 Z"/></clipPath>
<path clip-path="url(#c11)" d="M256.9 129.45L367 235.91M256.9 135.77L367 242.24M256.9 142.1L367 248.56M256.9 148.42L367 254.89M256.9 154.74L367 261.21M256.9 161.07L367 267.53M256.9 167.39L367 273.86M256.9 173.72L367 280.18M256.9 180.04L367 286.51M256.9 186.36L367 292.83M256.9 192.69L367 299.15M256.9 199.01L367 305.48M256.9 205.34L367 311.8M256.9 211.66L367 318.13M256.9 217.98L367 324.45M256.9 224.31L367 330.77M256.9 230.63L367 337.1M256.9 236.96L367 343.42M256.9 243.28L367 349.75M256.9 249.6L367 356.07M256.9 255.93L367 362.39M256.9 262.25L367 368.72M256.9 268.58L367 375.04M256.9 274.9L367 381.37M256.9 281.22L367 387.69M256.9 287.55L367 394.01" stroke="#0000ff" stroke-width="1.3" fill="none"/>
<path d="M257.9 282.3 L282.5 275.3 L309 265 L322.3 258.8 L335.5 253.2 L348.8 247.4 L366 240.4" stroke="#0000ff" stroke-width="1.3" fill="none" stroke-linejoin="round" />
<path d="M366 240.4 L355 247.3 L345 251.6 L340.8 254.8 L337 253.4 L333 255.8 L330.2 258.8 L326.5 257.3 L321.5 260.8 L318.3 265.3 L314.5 263.3 L309.5 266.3 L305.7 273.2 L301 269.2 L293 273 L289.3 288 L285 275.4 L272 279.9 L257.9 284.2" stroke="#0000ff" stroke-width="1.2" fill="none" stroke-linejoin="round" />
<path d="M257.9 282.8 L282.5 275.9 L309 265.6 L322.3 259.3 L344 250.2 L366.5 241.2 L393 228.6 L419.5 216.9 L432.8 210.2 L446.9 202" stroke="#0000ff" stroke-width="1.4" fill="none" stroke-linejoin="round" />
<path d="M265.6 326.6 L263.66 330.53 L259.32 331.16 L262.46 334.22 L261.72 338.54 L265.6 336.5 L269.48 338.54 L268.74 334.22 L271.88 331.16 L267.54 330.53 Z" fill="#00ffff"/>
<path d="M265.6 284H267.13V286.35H265.6M265.6 286.35H269.18V288.7H265.6M265.6 288.7H270.91V291.05H265.6M265.6 291.05H272.56V293.4H265.6M265.6 293.4H273.89V295.75H265.6M265.6 295.75H275.06V298.1H265.6M265.6 298.1H275.83V300.45H265.6M265.6 300.45H276.25V302.8H265.6M265.6 302.8H276.36V305.15H265.6M265.6 305.15H276.03V307.5H265.6M265.6 307.5H275.55V309.85H265.6M265.6 309.85H274.69V312.2H265.6M265.6 312.2H273.83V314.55H265.6M265.6 314.55H273.06V316.9H265.6M265.6 316.9H272.33V319.25H265.6M265.6 319.25H271.59V321.6H265.6M265.6 321.6H270.95V323.95H265.6M265.6 323.95H270.51V326.3H265.6M265.6 326.3H270.07V328.65H265.6M265.6 328.65H269.63V331H265.6M265.6 331H269.42V333.35H265.6M265.6 333.35H269.22V335.7H265.6M265.6 335.7H269.25V338.05H265.6M265.6 338.05H269.64V340.4H265.6M265.6 340.4H270.03V342.75H265.6M265.6 342.75H271.06V345.1H265.6M265.6 345.1H272.24V347.45H265.6M265.6 347.45H273.54V349.8H265.6M265.6 349.8H275.18V352.15H265.6M265.6 352.15H276.76V354.5H265.6M265.6 354.5H277.94V356.85H265.6M265.6 356.85H278.87V359.2H265.6M265.6 359.2H279.3V361.55H265.6M265.6 361.55H278.67V363.9H265.6M265.6 363.9H276.87V366.25H265.6M265.6 366.25H274.5V368.6H265.6M265.6 368.6H271.85V370.95H265.6M265.6 370.95H269.74V373.3H265.6M265.6 373.3H267.9V375.65H265.6M265.6 375.65H266.9V378H265.6" stroke="#ff0000" stroke-width="1.25" fill="none" stroke-linejoin="miter"/>
<path d="M265.6 241.4 L265.6 384.3" stroke="#ff0000" stroke-width="1.7" fill="none" stroke-linejoin="round" />
<text transform="translate(485.8 366.9) scale(0.8 1)" font-size="16.3" text-anchor="start" style="stroke-width:0.5px">M</text>
<text transform="translate(497.6 370.7) scale(1 1)" font-size="11" text-anchor="start" font-weight="bold" >h</text>
<text transform="translate(504.8 366.9) scale(1.25 1)" font-size="16.3" text-anchor="start" >=</text>
<text transform="translate(517.1 366.9) scale(1.25 1)" font-size="16.3" text-anchor="start" >1</text>
<text transform="translate(525.3 366.9) scale(1.25 1)" font-size="16.3" text-anchor="start" >0</text>
<text transform="translate(535.3 362.7) scale(1.1 1)" font-size="9.8" text-anchor="start" font-weight="bold" >11.5</text>
<text transform="translate(562.7 366.9) scale(1.25 1)" font-size="16.3" text-anchor="start" >h</text>
<text transform="translate(573.5 362.7) scale(1.2 1)" font-size="9.8" text-anchor="start" font-weight="bold" >−1</text>
<text transform="translate(585.5 366.9) scale(0.8 1)" font-size="16.3" text-anchor="start" style="stroke-width:0.5px">M</text>
<circle cx="602.1" cy="367.8" r="3.1" fill="none" stroke="#000" stroke-width="1.1"/>
<circle cx="602.1" cy="367.8" r="0.8" fill="#000"/>
<path d="M447.3 289.7 L460.1 279.8 L475.2 269.6 L490.3 258.7 L505.4 247.4 L511.5 243.6 L517.5 240.6 L526.6 236.9 L534.1 235.7 L538.7 238.3 L549.1 235" stroke="#000000" stroke-width="1.5" fill="none" stroke-linejoin="round" />
<path d="M447.3 287 L636.6 198.6" stroke="#00ff00" stroke-width="1.9" fill="none" stroke-linejoin="round" stroke-dasharray="11.8 8.9" stroke-dashoffset="0"/>
<path d="M447.3 282.1 L454.1 279.8 L467.7 274.6 L482.8 268.5 L497.9 262.5 L513 256.4 L528.1 250.6 L545 243.8 L565.6 234.2 L591.2 224 L604 218.2 L616.7 212.4 L627 206.7 L634 202.9 L636.4 201.3" stroke="#0000ff" stroke-width="1.4" fill="none" stroke-linejoin="round" />
<clipPath id="c12"><path d="M478 270.4 L482 274.8 L486 267.2 Z"/></clipPath>
<path clip-path="url(#c12)" d="M477 253.75L487 263.42M477 260.07L487 269.74M477 266.4L487 276.07M477 272.72L487 282.39" stroke="#0000ff" stroke-width="1.3" fill="none"/>
<path d="M478 270.4 L482 274.8 L486 267.2" stroke="#0000ff" stroke-width="1.2" fill="none" stroke-linejoin="round" />
<clipPath id="c13"><path d="M495.3 263.5 L499.2 266.8 L503.6 260.2 Z"/></clipPath>
<path clip-path="url(#c13)" d="M494.3 245.18L504.6 255.14M494.3 251.51L504.6 261.47M494.3 257.83L504.6 267.79M494.3 264.15L504.6 274.11" stroke="#0000ff" stroke-width="1.3" fill="none"/>
<path d="M495.3 263.5 L499.2 266.8 L503.6 260.2" stroke="#0000ff" stroke-width="1.2" fill="none" stroke-linejoin="round" />
<clipPath id="c14"><path d="M518.2 291.3 L567.7 291.3 L567.7 298.5 L518.2 298.5 Z"/></clipPath>
<path clip-path="url(#c14)" d="M517.2 287.11L568.7 237.62M517.2 293.43L568.7 243.94M517.2 299.76L568.7 250.26M517.2 306.08L568.7 256.59M517.2 312.4L568.7 262.91M517.2 318.73L568.7 269.24M517.2 325.05L568.7 275.56M517.2 331.38L568.7 281.88M517.2 337.7L568.7 288.21M517.2 344.02L568.7 294.53" stroke="#000000" stroke-width="1.3" fill="none"/>
<path d="M518.2 291.3 L567.7 291.3 L567.7 298.5 L518.2 298.5" fill="none" stroke="#000000" stroke-width="1.3"/>
<text x="572.0" y="298.9" font-size="16.3" textLength="38.2" lengthAdjust="spacingAndGlyphs">SMF1</text>
<clipPath id="c15"><path d="M518.2 316.1 L567.7 316.1 L567.7 323.3 L518.2 323.3 Z"/></clipPath>
<path clip-path="url(#c15)" d="M517.2 261L568.7 310.8M517.2 267.33L568.7 317.13M517.2 273.65L568.7 323.45M517.2 279.97L568.7 329.77M517.2 286.3L568.7 336.1M517.2 292.62L568.7 342.42M517.2 298.95L568.7 348.75M517.2 305.27L568.7 355.07M517.2 311.59L568.7 361.39M517.2 317.92L568.7 367.72M517.2 324.24L568.7 374.04" stroke="#0000ff" stroke-width="1.3" fill="none"/>
<path d="M518.2 316.1 L567.7 316.1 L567.7 323.3 L518.2 323.3" fill="none" stroke="#0000ff" stroke-width="1.3"/>
<text x="572.0" y="323.7" font-size="16.3" textLength="38.2" lengthAdjust="spacingAndGlyphs">SMF2</text>
<text transform="translate(675.2 366.9) scale(0.8 1)" font-size="16.3" text-anchor="start" style="stroke-width:0.5px">M</text>
<text transform="translate(687 370.7) scale(1 1)" font-size="11" text-anchor="start" font-weight="bold" >h</text>
<text transform="translate(694.2 366.9) scale(1.25 1)" font-size="16.3" text-anchor="start" >=</text>
<text transform="translate(706.5 366.9) scale(1.25 1)" font-size="16.3" text-anchor="start" >1</text>
<text transform="translate(714.7 366.9) scale(1.25 1)" font-size="16.3" text-anchor="start" >0</text>
<text transform="translate(724.7 362.7) scale(1.1 1)" font-size="9.8" text-anchor="start" font-weight="bold" >11.0</text>
<text transform="translate(752.1 366.9) scale(1.25 1)" font-size="16.3" text-anchor="start" >h</text>
<text transform="translate(762.9 362.7) scale(1.2 1)" font-size="9.8" text-anchor="start" font-weight="bold" >−1</text>
<text transform="translate(774.9 366.9) scale(0.8 1)" font-size="16.3" text-anchor="start" style="stroke-width:0.5px">M</text>
<circle cx="791.5" cy="367.8" r="3.1" fill="none" stroke="#000" stroke-width="1.1"/>
<circle cx="791.5" cy="367.8" r="0.8" fill="#000"/>
<path d="M636.9 305 L637.7 300 L639 294.4 L641.9 286.6 L645.9 280.5 L653.8 271.6 L663.6 262.7 L673.5 255.8 L683.4 249.3 L693.3 244 L703.2 240.3 L713.3 238" stroke="#000" stroke-width="1.5" fill="none" stroke-linejoin="round"/>
<path d="M636.7 284.9 L826 197" stroke="#00ff00" stroke-width="1.9" fill="none" stroke-linejoin="round" stroke-dasharray="11.8 8.9" stroke-dashoffset="0"/>
<path d="M636.7 287 L645.9 282.3 L653.8 278 L663.6 273.6 L671.5 270.9 L683.4 264.6 L693.3 260.3 L713 251.8 L734 243 L749.2 237.2 L768.4 229.5 L781.2 223.1 L793.9 218 L804.2 212.9 L811.7 209.1" stroke="#0000ff" stroke-width="1.4" fill="none" stroke-linejoin="round" />
<path d="M707.3 298.2 L757.5 298.2" stroke="#00ff00" stroke-width="1.8" fill="none" stroke-linejoin="round" stroke-dasharray="12 8.7"/>
<text x="761.6" y="298.9" font-size="16.3" textLength="22.6" lengthAdjust="spacingAndGlyphs">FIT</text>
<path d="M68.5 5.5 H826.1 V384.3 H68.5 ZM68.5 195 H826.1M257.9 5.5 V384.3M447.3 5.5 V384.3M636.7 5.5 V384.3M68.5 191.4 h5M257.9 191.4 h-5M68.5 184.25 h5M257.9 184.25 h-5M68.5 177.1 h10M257.9 177.1 h-10M68.5 169.95 h5M257.9 169.95 h-5M68.5 162.8 h5M257.9 162.8 h-5M68.5 155.65 h5M257.9 155.65 h-5M68.5 148.5 h5M257.9 148.5 h-5M68.5 141.35 h10M257.9 141.35 h-10M68.5 134.2 h5M257.9 134.2 h-5M68.5 127.05 h5M257.9 127.05 h-5M68.5 119.9 h5M257.9 119.9 h-5M68.5 112.75 h5M257.9 112.75 h-5M68.5 105.6 h10M257.9 105.6 h-10M68.5 98.45 h5M257.9 98.45 h-5M68.5 91.3 h5M257.9 91.3 h-5M68.5 84.15 h5M257.9 84.15 h-5M68.5 77 h5M257.9 77 h-5M68.5 69.85 h10M257.9 69.85 h-10M68.5 62.7 h5M257.9 62.7 h-5M68.5 55.55 h5M257.9 55.55 h-5M68.5 48.4 h5M257.9 48.4 h-5M68.5 41.25 h5M257.9 41.25 h-5M68.5 34.1 h10M257.9 34.1 h-10M68.5 26.95 h5M257.9 26.95 h-5M68.5 19.8 h5M257.9 19.8 h-5M68.5 12.65 h5M257.9 12.65 h-5M126.15 5.5 v5M126.15 195 v-5M159.87 5.5 v5M159.87 195 v-5M183.79 5.5 v5M183.79 195 v-5M202.35 5.5 v10M202.35 195 v-10M217.52 5.5 v5M217.52 195 v-5M230.34 5.5 v5M230.34 195 v-5M241.44 5.5 v5M241.44 195 v-5M251.24 5.5 v5M251.24 195 v-5M257.9 191.4 h5M447.3 191.4 h-5M257.9 184.25 h5M447.3 184.25 h-5M257.9 177.1 h10M447.3 177.1 h-10M257.9 169.95 h5M447.3 169.95 h-5M257.9 162.8 h5M447.3 162.8 h-5M257.9 155.65 h5M447.3 155.65 h-5M257.9 148.5 h5M447.3 148.5 h-5M257.9 141.35 h10M447.3 141.35 h-10M257.9 134.2 h5M447.3 134.2 h-5M257.9 127.05 h5M447.3 127.05 h-5M257.9 119.9 h5M447.3 119.9 h-5M257.9 112.75 h5M447.3 112.75 h-5M257.9 105.6 h10M447.3 105.6 h-10M257.9 98.45 h5M447.3 98.45 h-5M257.9 91.3 h5M447.3 91.3 h-5M257.9 84.15 h5M447.3 84.15 h-5M257.9 77 h5M447.3 77 h-5M257.9 69.85 h10M447.3 69.85 h-10M257.9 62.7 h5M447.3 62.7 h-5M257.9 55.55 h5M447.3 55.55 h-5M257.9 48.4 h5M447.3 48.4 h-5M257.9 41.25 h5M447.3 41.25 h-5M257.9 34.1 h10M447.3 34.1 h-10M257.9 26.95 h5M447.3 26.95 h-5M257.9 19.8 h5M447.3 19.8 h-5M257.9 12.65 h5M447.3 12.65 h-5M315.55 5.5 v5M315.55 195 v-5M349.27 5.5 v5M349.27 195 v-5M373.19 5.5 v5M373.19 195 v-5M391.75 5.5 v10M391.75 195 v-10M406.92 5.5 v5M406.92 195 v-5M419.74 5.5 v5M419.74 195 v-5M430.84 5.5 v5M430.84 195 v-5M440.64 5.5 v5M440.64 195 v-5M447.3 191.4 h5M636.7 191.4 h-5M447.3 184.25 h5M636.7 184.25 h-5M447.3 177.1 h10M636.7 177.1 h-10M447.3 169.95 h5M636.7 169.95 h-5M447.3 162.8 h5M636.7 162.8 h-5M447.3 155.65 h5M636.7 155.65 h-5M447.3 148.5 h5M636.7 148.5 h-5M447.3 141.35 h10M636.7 141.35 h-10M447.3 134.2 h5M636.7 134.2 h-5M447.3 127.05 h5M636.7 127.05 h-5M447.3 119.9 h5M636.7 119.9 h-5M447.3 112.75 h5M636.7 112.75 h-5M447.3 105.6 h10M636.7 105.6 h-10M447.3 98.45 h5M636.7 98.45 h-5M447.3 91.3 h5M636.7 91.3 h-5M447.3 84.15 h5M636.7 84.15 h-5M447.3 77 h5M636.7 77 h-5M447.3 69.85 h10M636.7 69.85 h-10M447.3 62.7 h5M636.7 62.7 h-5M447.3 55.55 h5M636.7 55.55 h-5M447.3 48.4 h5M636.7 48.4 h-5M447.3 41.25 h5M636.7 41.25 h-5M447.3 34.1 h10M636.7 34.1 h-10M447.3 26.95 h5M636.7 26.95 h-5M447.3 19.8 h5M636.7 19.8 h-5M447.3 12.65 h5M636.7 12.65 h-5M504.95 5.5 v5M504.95 195 v-5M538.67 5.5 v5M538.67 195 v-5M562.59 5.5 v5M562.59 195 v-5M581.15 5.5 v10M581.15 195 v-10M596.32 5.5 v5M596.32 195 v-5M609.14 5.5 v5M609.14 195 v-5M620.24 5.5 v5M620.24 195 v-5M630.04 5.5 v5M630.04 195 v-5M636.7 191.4 h5M826.1 191.4 h-5M636.7 184.25 h5M826.1 184.25 h-5M636.7 177.1 h10M826.1 177.1 h-10M636.7 169.95 h5M826.1 169.95 h-5M636.7 162.8 h5M826.1 162.8 h-5M636.7 155.65 h5M826.1 155.65 h-5M636.7 148.5 h5M826.1 148.5 h-5M636.7 141.35 h10M826.1 141.35 h-10M636.7 134.2 h5M826.1 134.2 h-5M636.7 127.05 h5M826.1 127.05 h-5M636.7 119.9 h5M826.1 119.9 h-5M636.7 112.75 h5M826.1 112.75 h-5M636.7 105.6 h10M826.1 105.6 h-10M636.7 98.45 h5M826.1 98.45 h-5M636.7 91.3 h5M826.1 91.3 h-5M636.7 84.15 h5M826.1 84.15 h-5M636.7 77 h5M826.1 77 h-5M636.7 69.85 h10M826.1 69.85 h-10M636.7 62.7 h5M826.1 62.7 h-5M636.7 55.55 h5M826.1 55.55 h-5M636.7 48.4 h5M826.1 48.4 h-5M636.7 41.25 h5M826.1 41.25 h-5M636.7 34.1 h10M826.1 34.1 h-10M636.7 26.95 h5M826.1 26.95 h-5M636.7 19.8 h5M826.1 19.8 h-5M636.7 12.65 h5M826.1 12.65 h-5M694.35 5.5 v5M694.35 195 v-5M728.07 5.5 v5M728.07 195 v-5M751.99 5.5 v5M751.99 195 v-5M770.55 5.5 v10M770.55 195 v-10M785.72 5.5 v5M785.72 195 v-5M798.54 5.5 v5M798.54 195 v-5M809.64 5.5 v5M809.64 195 v-5M819.44 5.5 v5M819.44 195 v-5M68.5 380.9 h5M257.9 380.9 h-5M68.5 373.75 h5M257.9 373.75 h-5M68.5 366.6 h10M257.9 366.6 h-10M68.5 359.45 h5M257.9 359.45 h-5M68.5 352.3 h5M257.9 352.3 h-5M68.5 345.15 h5M257.9 345.15 h-5M68.5 338 h5M257.9 338 h-5M68.5 330.85 h10M257.9 330.85 h-10M68.5 323.7 h5M257.9 323.7 h-5M68.5 316.55 h5M257.9 316.55 h-5M68.5 309.4 h5M257.9 309.4 h-5M68.5 302.25 h5M257.9 302.25 h-5M68.5 295.1 h10M257.9 295.1 h-10M68.5 287.95 h5M257.9 287.95 h-5M68.5 280.8 h5M257.9 280.8 h-5M68.5 273.65 h5M257.9 273.65 h-5M68.5 266.5 h5M257.9 266.5 h-5M68.5 259.35 h10M257.9 259.35 h-10M68.5 252.2 h5M257.9 252.2 h-5M68.5 245.05 h5M257.9 245.05 h-5M68.5 237.9 h5M257.9 237.9 h-5M68.5 230.75 h5M257.9 230.75 h-5M68.5 223.6 h10M257.9 223.6 h-10M68.5 216.45 h5M257.9 216.45 h-5M68.5 209.3 h5M257.9 209.3 h-5M68.5 202.15 h5M257.9 202.15 h-5M126.15 195 v5M126.15 384.3 v-5M159.87 195 v5M159.87 384.3 v-5M183.79 195 v5M183.79 384.3 v-5M202.35 195 v10M202.35 384.3 v-10M217.52 195 v5M217.52 384.3 v-5M230.34 195 v5M230.34 384.3 v-5M241.44 195 v5M241.44 384.3 v-5M251.24 195 v5M251.24 384.3 v-5M257.9 380.9 h5M447.3 380.9 h-5M257.9 373.75 h5M447.3 373.75 h-5M257.9 366.6 h10M447.3 366.6 h-10M257.9 359.45 h5M447.3 359.45 h-5M257.9 352.3 h5M447.3 352.3 h-5M257.9 345.15 h5M447.3 345.15 h-5M257.9 338 h5M447.3 338 h-5M257.9 330.85 h10M447.3 330.85 h-10M257.9 323.7 h5M447.3 323.7 h-5M257.9 316.55 h5M447.3 316.55 h-5M257.9 309.4 h5M447.3 309.4 h-5M257.9 302.25 h5M447.3 302.25 h-5M257.9 295.1 h10M447.3 295.1 h-10M257.9 287.95 h5M447.3 287.95 h-5M257.9 280.8 h5M447.3 280.8 h-5M257.9 273.65 h5M447.3 273.65 h-5M257.9 266.5 h5M447.3 266.5 h-5M257.9 259.35 h10M447.3 259.35 h-10M257.9 252.2 h5M447.3 252.2 h-5M257.9 245.05 h5M447.3 245.05 h-5M257.9 237.9 h5M447.3 237.9 h-5M257.9 230.75 h5M447.3 230.75 h-5M257.9 223.6 h10M447.3 223.6 h-10M257.9 216.45 h5M447.3 216.45 h-5M257.9 209.3 h5M447.3 209.3 h-5M257.9 202.15 h5M447.3 202.15 h-5M315.55 195 v5M315.55 384.3 v-5M349.27 195 v5M349.27 384.3 v-5M373.19 195 v5M373.19 384.3 v-5M391.75 195 v10M391.75 384.3 v-10M406.92 195 v5M406.92 384.3 v-5M419.74 195 v5M419.74 384.3 v-5M430.84 195 v5M430.84 384.3 v-5M440.64 195 v5M440.64 384.3 v-5M447.3 380.9 h5M636.7 380.9 h-5M447.3 373.75 h5M636.7 373.75 h-5M447.3 366.6 h10M636.7 366.6 h-10M447.3 359.45 h5M636.7 359.45 h-5M447.3 352.3 h5M636.7 352.3 h-5M447.3 345.15 h5M636.7 345.15 h-5M447.3 338 h5M636.7 338 h-5M447.3 330.85 h10M636.7 330.85 h-10M447.3 323.7 h5M636.7 323.7 h-5M447.3 316.55 h5M636.7 316.55 h-5M447.3 309.4 h5M636.7 309.4 h-5M447.3 302.25 h5M636.7 302.25 h-5M447.3 295.1 h10M636.7 295.1 h-10M447.3 287.95 h5M636.7 287.95 h-5M447.3 280.8 h5M636.7 280.8 h-5M447.3 273.65 h5M636.7 273.65 h-5M447.3 266.5 h5M636.7 266.5 h-5M447.3 259.35 h10M636.7 259.35 h-10M447.3 252.2 h5M636.7 252.2 h-5M447.3 245.05 h5M636.7 245.05 h-5M447.3 237.9 h5M636.7 237.9 h-5M447.3 230.75 h5M636.7 230.75 h-5M447.3 223.6 h10M636.7 223.6 h-10M447.3 216.45 h5M636.7 216.45 h-5M447.3 209.3 h5M636.7 209.3 h-5M447.3 202.15 h5M636.7 202.15 h-5M504.95 195 v5M504.95 384.3 v-5M538.67 195 v5M538.67 384.3 v-5M562.59 195 v5M562.59 384.3 v-5M581.15 195 v10M581.15 384.3 v-10M596.32 195 v5M596.32 384.3 v-5M609.14 195 v5M609.14 384.3 v-5M620.24 195 v5M620.24 384.3 v-5M630.04 195 v5M630.04 384.3 v-5M636.7 380.9 h5M826.1 380.9 h-5M636.7 373.75 h5M826.1 373.75 h-5M636.7 366.6 h10M826.1 366.6 h-10M636.7 359.45 h5M826.1 359.45 h-5M636.7 352.3 h5M826.1 352.3 h-5M636.7 345.15 h5M826.1 345.15 h-5M636.7 338 h5M826.1 338 h-5M636.7 330.85 h10M826.1 330.85 h-10M636.7 323.7 h5M826.1 323.7 h-5M636.7 316.55 h5M826.1 316.55 h-5M636.7 309.4 h5M826.1 309.4 h-5M636.7 302.25 h5M826.1 302.25 h-5M636.7 295.1 h10M826.1 295.1 h-10M636.7 287.95 h5M826.1 287.95 h-5M636.7 280.8 h5M826.1 280.8 h-5M636.7 273.65 h5M826.1 273.65 h-5M636.7 266.5 h5M826.1 266.5 h-5M636.7 259.35 h10M826.1 259.35 h-10M636.7 252.2 h5M826.1 252.2 h-5M636.7 245.05 h5M826.1 245.05 h-5M636.7 237.9 h5M826.1 237.9 h-5M636.7 230.75 h5M826.1 230.75 h-5M636.7 223.6 h10M826.1 223.6 h-10M636.7 216.45 h5M826.1 216.45 h-5M636.7 209.3 h5M826.1 209.3 h-5M636.7 202.15 h5M826.1 202.15 h-5M694.35 195 v5M694.35 384.3 v-5M728.07 195 v5M728.07 384.3 v-5M751.99 195 v5M751.99 384.3 v-5M770.55 195 v10M770.55 384.3 v-10M785.72 195 v5M785.72 384.3 v-5M798.54 195 v5M798.54 384.3 v-5M809.64 195 v5M809.64 384.3 v-5M819.44 195 v5M819.44 384.3 v-5" stroke="#000" stroke-width="1.4" fill="none" stroke-linecap="butt"/>
<text transform="translate(60.7 39.6) scale(1.1 1)" font-size="16.9" text-anchor="end" letter-spacing="0.45">−8</text>
<text transform="translate(60.7 75.35) scale(1.1 1)" font-size="16.9" text-anchor="end" letter-spacing="0.45">−9</text>
<text transform="translate(60.7 111.1) scale(1.1 1)" font-size="16.9" text-anchor="end" letter-spacing="0.45">−10</text>
<text transform="translate(60.7 146.85) scale(1.1 1)" font-size="16.9" text-anchor="end" letter-spacing="0.45">−11</text>
<text transform="translate(60.7 182.6) scale(1.1 1)" font-size="16.9" text-anchor="end" letter-spacing="0.45">−12</text>
<text transform="translate(60.7 229.1) scale(1.1 1)" font-size="16.9" text-anchor="end" letter-spacing="0.45">−8</text>
<text transform="translate(60.7 264.85) scale(1.1 1)" font-size="16.9" text-anchor="end" letter-spacing="0.45">−9</text>
<text transform="translate(60.7 300.6) scale(1.1 1)" font-size="16.9" text-anchor="end" letter-spacing="0.45">−10</text>
<text transform="translate(60.7 336.35) scale(1.1 1)" font-size="16.9" text-anchor="end" letter-spacing="0.45">−11</text>
<text transform="translate(60.7 372.1) scale(1.1 1)" font-size="16.9" text-anchor="end" letter-spacing="0.45">−12</text>
<text transform="translate(68.3 403.9) scale(1.15 1)" font-size="16.9" text-anchor="middle" >1</text>
<text transform="translate(202.15 403.9) scale(1.15 1)" font-size="16.9" text-anchor="middle" >5</text>
<text transform="translate(164 425.6) scale(1.25 1)" font-size="16.3" text-anchor="middle" >1+z</text>
<text transform="translate(257.7 403.9) scale(1.15 1)" font-size="16.9" text-anchor="middle" >1</text>
<text transform="translate(391.55 403.9) scale(1.15 1)" font-size="16.9" text-anchor="middle" >5</text>
<text transform="translate(353.4 425.6) scale(1.25 1)" font-size="16.3" text-anchor="middle" >1+z</text>
<text transform="translate(447.1 403.9) scale(1.15 1)" font-size="16.9" text-anchor="middle" >1</text>
<text transform="translate(580.95 403.9) scale(1.15 1)" font-size="16.9" text-anchor="middle" >5</text>
<text transform="translate(542.8 425.6) scale(1.25 1)" font-size="16.3" text-anchor="middle" >1+z</text>
<text transform="translate(636.5 403.9) scale(1.15 1)" font-size="16.9" text-anchor="middle" >1</text>
<text transform="translate(770.35 403.9) scale(1.15 1)" font-size="16.9" text-anchor="middle" >5</text>
<text transform="translate(732.2 425.6) scale(1.25 1)" font-size="16.3" text-anchor="middle" >1+z</text>
<text transform="translate(16.3 169) rotate(-90) scale(1.07 1)" font-size="16.3">log</text>
<text transform="translate(16.3 137.6) rotate(-90) scale(1.01 1)" font-size="16.3">[SSFR</text>
<path d="M19.2 85.2L4.6 75.6" stroke="#000" stroke-width="1.2" fill="none"/>
<text transform="translate(16.3 67) rotate(-90) scale(1.2 1)" font-size="16.3">y</text>
<text transform="translate(16.3 56.4) rotate(-90) scale(1.2 1)" font-size="16.3">r</text>
<text transform="translate(12 48.6) rotate(-90) scale(1.15 1)" font-size="10" font-weight="bold">−1</text>
<text transform="translate(16.3 36.4) rotate(-90) scale(1 1)" font-size="16.3">]</text>
<text transform="translate(16.3 358.5) rotate(-90) scale(1.07 1)" font-size="16.3">log</text>
<text transform="translate(16.3 327.1) rotate(-90) scale(1.01 1)" font-size="16.3">[SSFR</text>
<path d="M19.2 274.7L4.6 265.1" stroke="#000" stroke-width="1.2" fill="none"/>
<text transform="translate(16.3 256.5) rotate(-90) scale(1.2 1)" font-size="16.3">y</text>
<text transform="translate(16.3 245.9) rotate(-90) scale(1.2 1)" font-size="16.3">r</text>
<text transform="translate(12 238.1) rotate(-90) scale(1.15 1)" font-size="10" font-weight="bold">−1</text>
<text transform="translate(16.3 225.9) rotate(-90) scale(1 1)" font-size="16.3">]</text></svg></body></html>
